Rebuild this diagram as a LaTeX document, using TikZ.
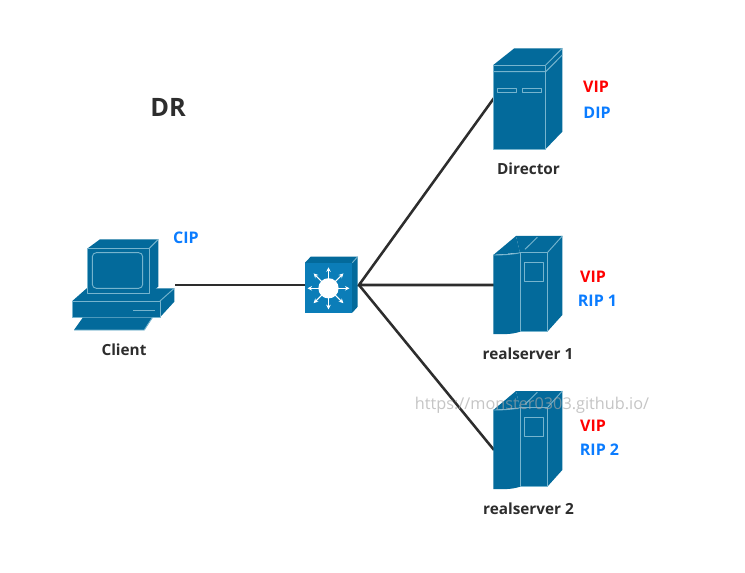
\documentclass[tikz,border=0pt]{standalone}
\usepackage{fontspec}
\setmainfont{Open Sans}
\usetikzlibrary{arrows.meta}
\definecolor{dev}{HTML}{036A9B}
\definecolor{devl}{HTML}{76B4CE}
\definecolor{sw}{HTML}{0B7DB8}
\definecolor{ink}{HTML}{2D2D2D}
\definecolor{vip}{HTML}{FF0000}
\definecolor{blu}{HTML}{0A7CFF}
\tikzset{
  x=0.75pt,y=-0.75pt,
  detail/.style={draw=devl,line width=0.7pt,line join=round},
  link/.style={draw=ink,line width=1.9pt},
  lbl/.style={font=\bfseries\fontsize{11.5}{14}\selectfont,text=ink,inner sep=0pt},
  tagred/.style={font=\bfseries\fontsize{12}{14}\selectfont,text=vip,inner sep=0pt},
  tagblue/.style={font=\bfseries\fontsize{12}{14}\selectfont,text=blu,inner sep=0pt},
  spoke/.style={draw=white,line width=0.8pt,-{Stealth[length=3.4pt,width=3.4pt]}},
}
\newcommand{\rackserver}[1]{%
  \begin{scope}[yshift=#1]
    \fill[dev] (493.3,255) .. controls (505,255) and (515,254) .. (520,252.7)
      -- (516,236) -- (562.3,236) -- (562.3,315) -- (547.3,331.7) -- (520,331.7)
      .. controls (512,334.5) and (503,334.3) .. (493.3,334) -- cycle;
    \fill[dev] (493.3,255) -- (516,236) -- (520,252.7) -- cycle;
    \draw[detail] (520,252.7) rectangle (547.3,331.7);
    \draw[detail] (547.3,252.7) -- (562.3,236);
    \draw[detail] (493.3,255) .. controls (505,255) and (515,254) .. (520,252.7);
    \draw[detail] (525,249.3) -- (537.3,237.3);
    \draw[detail] (524.3,262.7) rectangle (543.3,281.7);
  \end{scope}}
\begin{document}
\begin{tikzpicture}
\useasboundingbox (0,0) rectangle (745,573);
\fill[white] (0,0) rectangle (745,573);

% connector ends
\coordinate (clientP) at (175,285);
\coordinate (hubW) at (306,285);
\coordinate (hubE) at (359,285);
\coordinate (dirP) at (494,98);
\coordinate (rs1P) at (494,285);
\coordinate (rs2P) at (494,450);
\draw[link] (clientP) -- (hubW);
\draw[link,line join=miter] (dirP) -- (hubE) -- (rs1P);
\draw[link] (hubE) -- (rs2P);

% client
\fill[dev] (72.3,301) -- (86.7,288.3) -- (174.3,288.3) -- (174.3,301.7) -- (160,317.3) -- (72.3,317.3) -- cycle;
\draw[detail] (72.3,301) rectangle (160,317.3);
\draw[detail] (160,301) -- (174.3,288.3);
\draw[detail] (133.3,310) -- (155,310);
\fill[dev] (82.7,317.7) -- (152.3,317.7) -- (144.3,330) -- (74,330) -- cycle;
\draw[detail] (74,330) -- (144.3,330) -- (152.3,317.7);
\fill[dev] (87.7,248.3) -- (100,239.3) -- (158.3,239.3) -- (158.3,286.7) -- (149.3,293.3) -- (87.7,293.3) -- cycle;
\draw[detail] (87.7,248.3) rectangle (149.3,293.3);
\draw[detail] (149.3,248.3) -- (158.3,239.3);
\draw[detail,rounded corners=3pt] (92.3,252.7) rectangle (142.7,288.3);

% switch
\fill[dev] (305,262.7) -- (310.7,256.7) -- (357.7,256.7) -- (357.7,306.7) -- (352.3,312.7) -- (305,312.7) -- cycle;
\fill[sw] (305,262.7) rectangle (352.3,312.7);
\draw[detail] (352.3,262.7) -- (357.7,256.7);
\foreach \a in {0,45,...,315}{
  \draw[spoke] (328.5,288.3) -- ++(\a:21);
}
\fill[white] (328.5,288.3) circle[radius=7.6pt];

% director
\fill[dev] (493.3,65) -- (514.3,48.3) -- (562.3,48.3) -- (562.3,131.7) -- (545.7,149) -- (493.3,149) -- cycle;
\draw[detail] (493.3,65) rectangle (545.7,149);
\draw[detail] (493.3,71.7) -- (545.7,71.7) -- (562.3,55);
\draw[detail] (545.7,65) -- (562.3,48.3);
\draw[detail] (497.3,88.3) rectangle (516,92.7);
\draw[detail] (522.3,88.3) rectangle (541,92.7);

% real servers
\rackserver{0pt}
\rackserver{-116.25pt}

% labels
\node[lbl,font=\bfseries\fontsize{19}{22}\selectfont] (title) at (168,107.5) {DR};
\node[lbl] (client) at (124,349.5) {Client};
\node[lbl] (director) at (528.5,168.5) {Director};
\node[lbl] (rs1) at (528,353.5) {realserver 1};
\node[lbl] (rs2) at (528.5,508.5) {realserver 2};
\node[tagblue] (cip) at (186,237.5) {CIP};
\node[tagred] (vip0) at (596,86.5) {VIP};
\node[tagblue] (dip) at (597,112.5) {DIP};
\node[tagred] (vip1) at (593,276.5) {VIP};
\node[tagblue] (rip1) at (597.5,300.5) {RIP 1};
\node[tagred] (vip2) at (593,425.5) {VIP};
\node[tagblue] (rip2) at (599.5,449.5) {RIP 2};
\node[inner sep=0pt,text=gray!70,opacity=0.65,font=\fontsize{12.2}{15}\selectfont] (mark) at (532,405.5) {https://monster0303.github.io/};
\end{tikzpicture}
\end{document}
